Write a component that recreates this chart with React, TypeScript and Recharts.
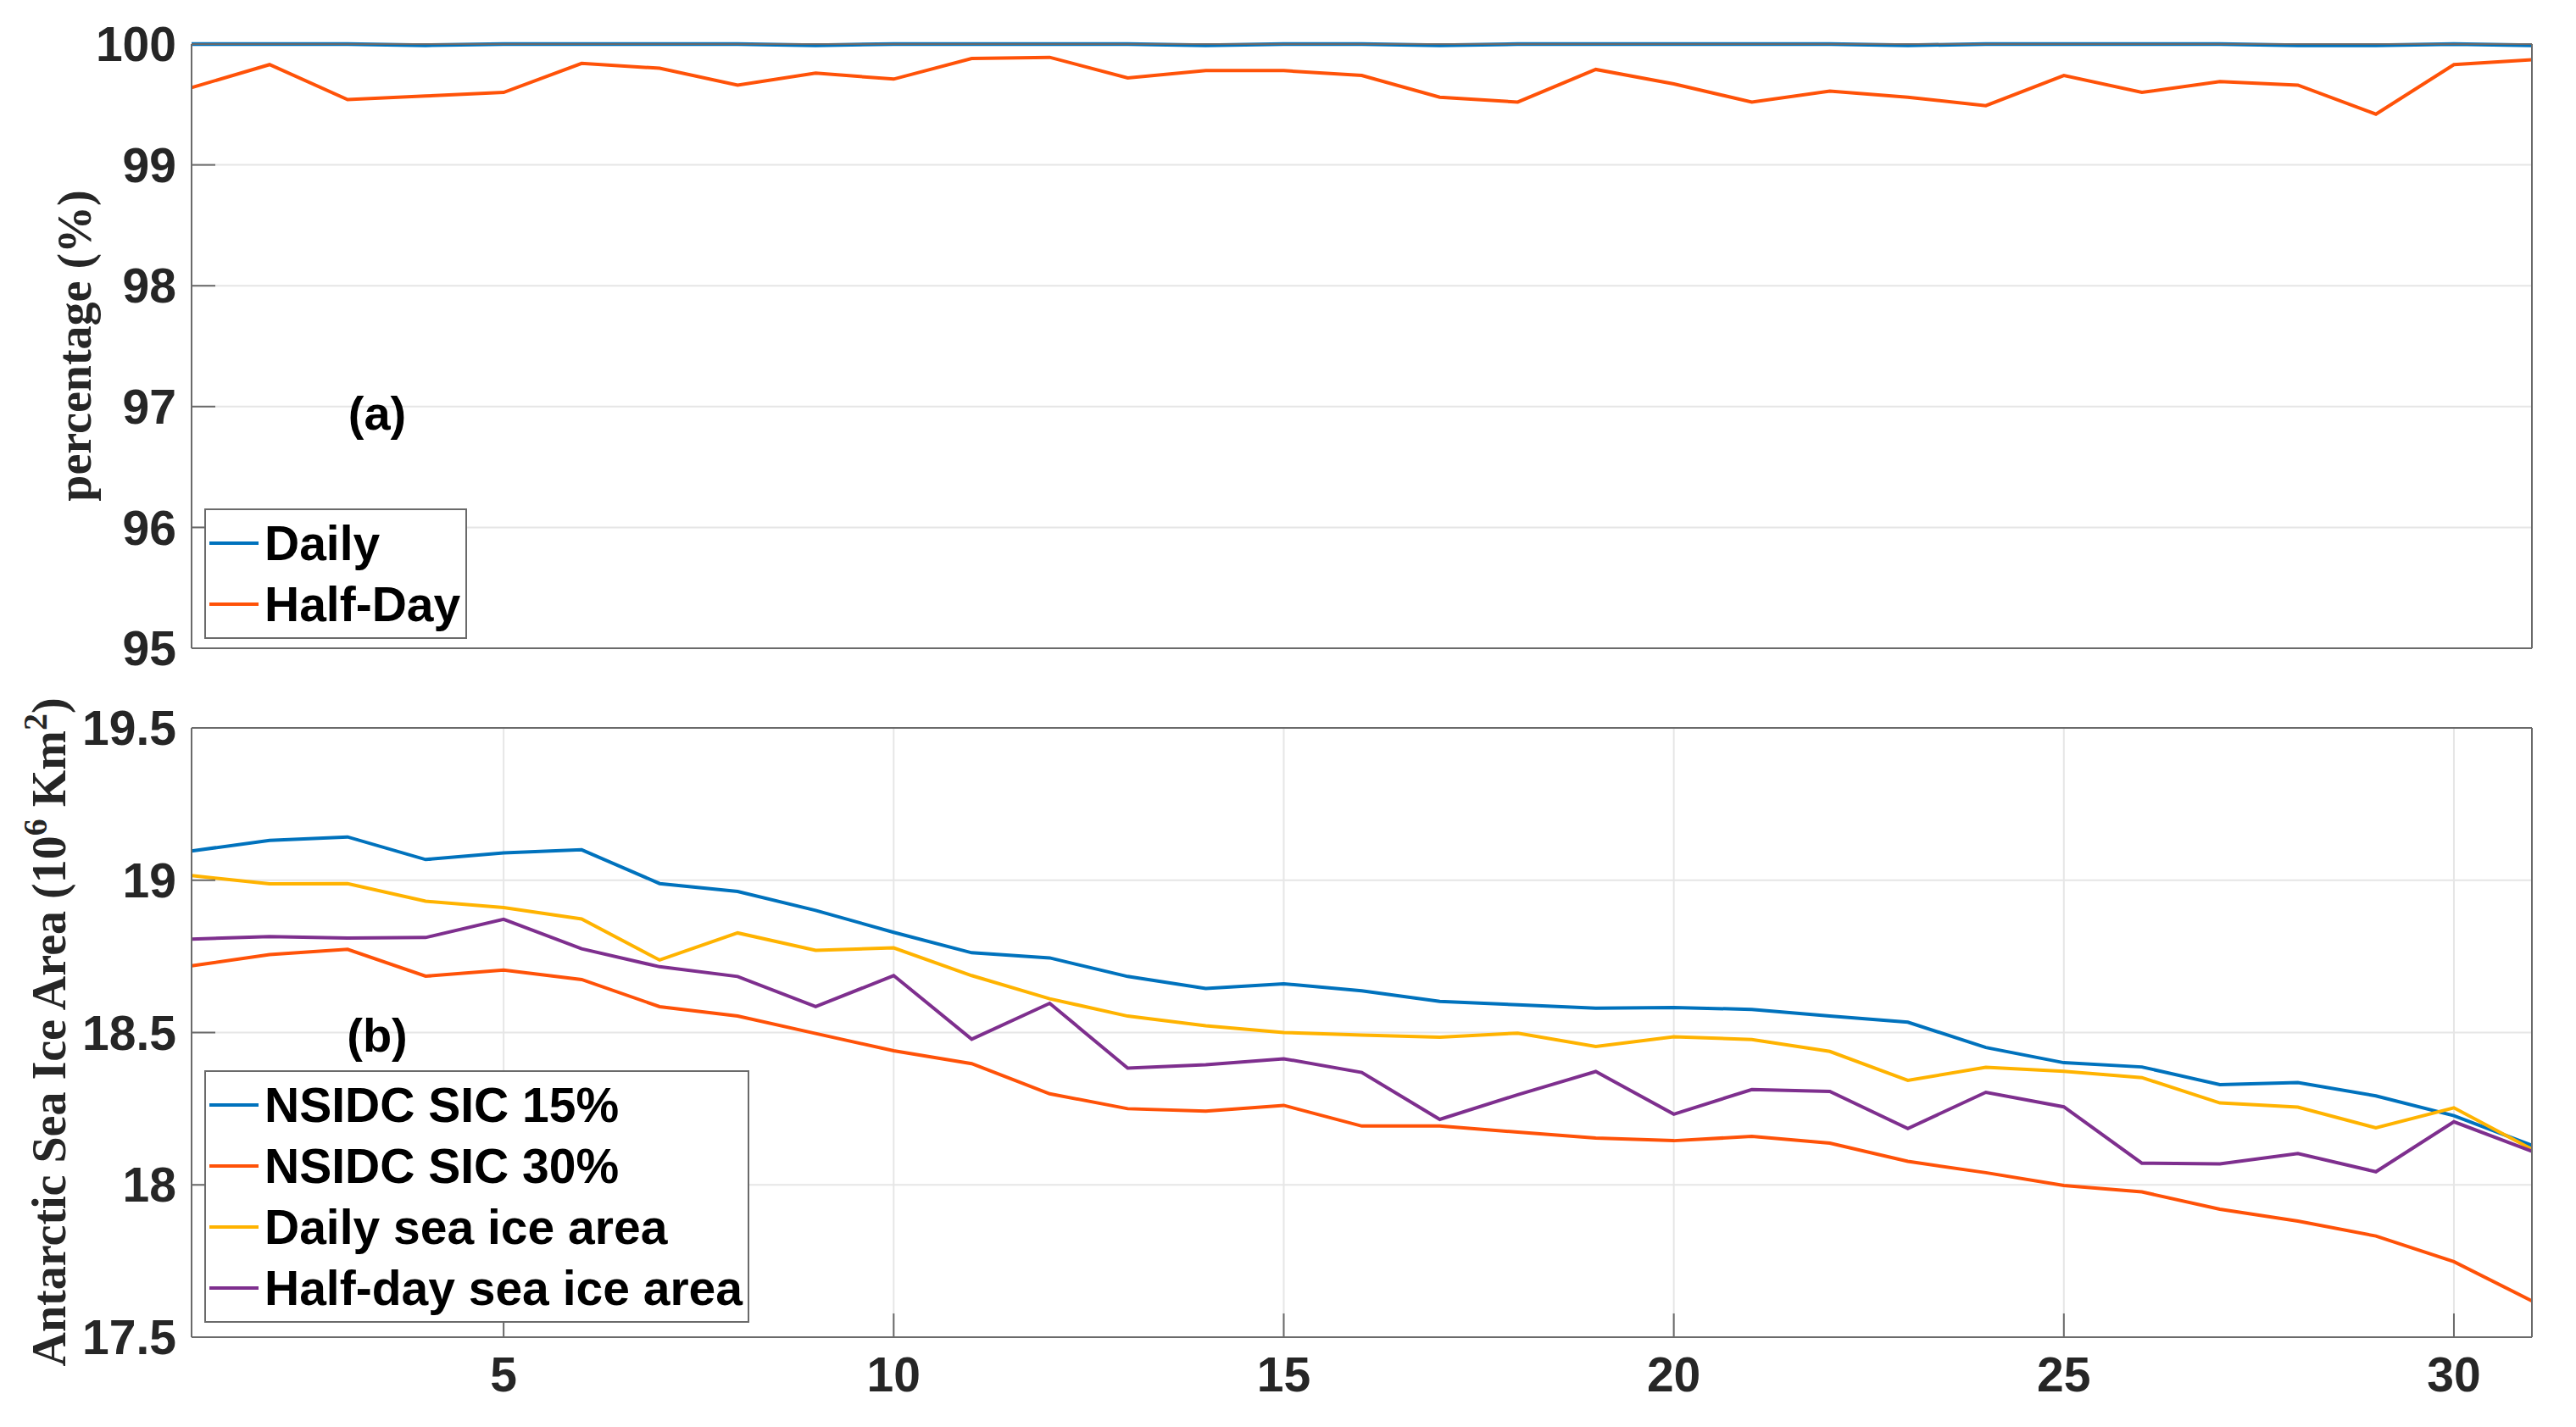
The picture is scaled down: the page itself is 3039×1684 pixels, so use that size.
import React from "react";
import { CartesianGrid, Legend, Line, LineChart, XAxis, YAxis } from "recharts";

const days = [1, 2, 3, 4, 5, 6, 7, 8, 9, 10, 11, 12, 13, 14, 15, 16, 17, 18, 19, 20, 21, 22, 23, 24, 25, 26, 27, 28, 29, 30, 31];

// panel (a): percentage
const dailyPct = [100, 100, 100, 99.99, 100, 100, 100, 100, 99.99, 100, 100, 100, 100, 99.99, 100, 100, 99.99, 100, 100, 100, 100, 100, 99.99, 100, 100, 100, 100, 99.99, 99.99, 100, 99.99];
const halfDayPct = [99.64, 99.83, 99.54, 99.57, 99.6, 99.84, 99.8, 99.66, 99.76, 99.71, 99.88, 99.89, 99.72, 99.78, 99.78, 99.74, 99.56, 99.52, 99.79, 99.67, 99.52, 99.61, 99.56, 99.49, 99.74, 99.6, 99.69, 99.66, 99.42, 99.83, 99.87];

// panel (b): sea ice area (10^6 km^2)
const sic15 = [19.096, 19.131, 19.142, 19.068, 19.09, 19.1, 18.989, 18.963, 18.901, 18.829, 18.762, 18.745, 18.684, 18.645, 18.66, 18.637, 18.602, 18.591, 18.58, 18.582, 18.576, 18.554, 18.534, 18.451, 18.401, 18.387, 18.329, 18.336, 18.292, 18.227, 18.13];
const sic30 = [18.719, 18.756, 18.773, 18.685, 18.705, 18.674, 18.585, 18.554, 18.497, 18.44, 18.398, 18.299, 18.25, 18.242, 18.261, 18.193, 18.193, 18.173, 18.154, 18.145, 18.159, 18.137, 18.077, 18.04, 17.998, 17.977, 17.92, 17.881, 17.832, 17.748, 17.619];
const dailyArea = [19.015, 18.988, 18.989, 18.931, 18.91, 18.873, 18.738, 18.827, 18.77, 18.778, 18.687, 18.611, 18.554, 18.522, 18.5, 18.492, 18.485, 18.498, 18.454, 18.486, 18.477, 18.438, 18.343, 18.386, 18.373, 18.352, 18.269, 18.255, 18.187, 18.253, 18.117];
const halfDayArea = [18.807, 18.815, 18.81, 18.812, 18.872, 18.775, 18.716, 18.684, 18.585, 18.687, 18.478, 18.596, 18.383, 18.394, 18.414, 18.369, 18.215, 18.296, 18.372, 18.232, 18.313, 18.307, 18.185, 18.304, 18.256, 18.071, 18.069, 18.103, 18.043, 18.207, 18.11];

const dayTicks = [5, 10, 15, 20, 25, 30];
const pctTicks = [95, 96, 97, 98, 99, 100];
const areaTicks = [17.5, 18, 18.5, 19, 19.5];

// legend order = drawing order
const seriesOrder = ["daily", "half", "s15", "s30", "da", "ha"];

const pctData = days.map((d, i) => ({ day: d, daily: dailyPct[i], half: halfDayPct[i] }));
const areaData = days.map((d, i) => ({ day: d, s15: sic15[i], s30: sic30[i], da: dailyArea[i], ha: halfDayArea[i] }));

const BLUE = "#0072BD";
const ORANGE = "#FF5208";
const YELLOW = "#FFB300";
const PURPLE = "#7E2F8E";
const FRAME = "#6a6a6a";
const SANS = "'Liberation Sans', Arial, Helvetica, sans-serif";
const SERIF = "'Liberation Serif', 'Times New Roman', serif";

const tickStyle = { fill: "#262626", fontSize: 57, fontWeight: 700, fontFamily: SANS };
const lineStyle = { stroke: FRAME, strokeWidth: 2 };

const sortLegend = (item: any) => seriesOrder.indexOf(item.dataKey);

const renderLegend = (props: any) => {
  const { payload } = props;
  return (
    <div style={{ background: "#fff", border: `2px solid ${FRAME}`, padding: "3px 6px 3px 4px" }}>
      {payload.map((entry: any) => (
        <div key={entry.value} style={{ display: "flex", alignItems: "center", height: 72 }}>
          <span style={{ display: "inline-block", width: 58, height: 4, background: entry.color, marginRight: 7 }} />
          <span style={{ fontFamily: SANS, fontWeight: 700, fontSize: 57, color: "#000", lineHeight: "72px", whiteSpace: "nowrap" }}>
            {entry.value}
          </span>
        </div>
      ))}
    </div>
  );
};

export default function App() {
  return (
    <div style={{ position: "absolute", left: 0, top: 0, width: 3039, height: 1684, background: "#fff" }}>
      <div style={{ position: "absolute", left: 0, top: 0 }}>
        <LineChart width={3039} height={820} data={pctData} margin={{ top: 51, right: 51, bottom: 0, left: 0 }}>
          <CartesianGrid stroke="#e6e6e6" strokeWidth={2} />
          <XAxis dataKey="day" type="number" domain={[1, 31]} ticks={dayTicks} height={55} tick={false}
            tickSize={-28} stroke={FRAME} axisLine={lineStyle} tickLine={lineStyle} />
          <XAxis xAxisId="t" orientation="top" dataKey="day" type="number" domain={[1, 31]} ticks={dayTicks} height={1}
            tick={false} tickSize={-28} stroke={FRAME} axisLine={lineStyle} tickLine={lineStyle} />
          <YAxis type="number" domain={[95, 100]} ticks={pctTicks} width={226} tickSize={-28} tickMargin={46}
            tick={tickStyle} stroke={FRAME} axisLine={lineStyle} tickLine={lineStyle} />
          <YAxis yAxisId="r" orientation="right" type="number" domain={[95, 100]} ticks={pctTicks} width={1}
            tick={false} tickSize={-28} stroke={FRAME} axisLine={lineStyle} tickLine={lineStyle} />
          <Legend layout="vertical" align="center" verticalAlign="middle" content={renderLegend} itemSorter={sortLegend}
            wrapperStyle={{ left: 241, top: 600, width: "auto" }} />
          <Line type="linear" dataKey="daily" name="Daily" stroke={BLUE} strokeWidth={4.5} dot={false} isAnimationActive={false} />
          <Line type="linear" dataKey="half" name="Half-Day" stroke={ORANGE} strokeWidth={4} dot={false} isAnimationActive={false} />
        </LineChart>
      </div>
      <div style={{ position: "absolute", left: 0, top: 820 }}>
        <LineChart width={3039} height={864} data={areaData} margin={{ top: 38, right: 51, bottom: 0, left: 0 }}>
          <CartesianGrid stroke="#e6e6e6" strokeWidth={2} />
          <XAxis dataKey="day" type="number" domain={[1, 31]} ticks={dayTicks} height={106} tick={tickStyle}
            tickSize={-28} tickMargin={52} stroke={FRAME} axisLine={lineStyle} tickLine={lineStyle} />
          <XAxis xAxisId="t" orientation="top" dataKey="day" type="number" domain={[1, 31]} ticks={dayTicks} height={1}
            tick={false} tickSize={-28} stroke={FRAME} axisLine={lineStyle} tickLine={lineStyle} />
          <YAxis type="number" domain={[17.5, 19.5]} ticks={areaTicks} width={226} tickSize={-28} tickMargin={46}
            tick={tickStyle} stroke={FRAME} axisLine={lineStyle} tickLine={lineStyle} />
          <YAxis yAxisId="r" orientation="right" type="number" domain={[17.5, 19.5]} ticks={areaTicks} width={1}
            tick={false} tickSize={-28} stroke={FRAME} axisLine={lineStyle} tickLine={lineStyle} />
          <Legend layout="vertical" align="center" verticalAlign="middle" content={renderLegend} itemSorter={sortLegend}
            wrapperStyle={{ left: 241, top: 443, width: "auto" }} />
          <Line type="linear" dataKey="s15" name="NSIDC SIC 15%" stroke={BLUE} strokeWidth={4} dot={false} isAnimationActive={false} />
          <Line type="linear" dataKey="s30" name="NSIDC SIC 30%" stroke={ORANGE} strokeWidth={4} dot={false} isAnimationActive={false} />
          <Line type="linear" dataKey="da" name="Daily sea ice area" stroke={YELLOW} strokeWidth={4} dot={false} isAnimationActive={false} />
          <Line type="linear" dataKey="ha" name="Half-day sea ice area" stroke={PURPLE} strokeWidth={4} dot={false} isAnimationActive={false} />
        </LineChart>
      </div>

      <div style={{ position: "absolute", left: 445, top: 487, transform: "translate(-50%, -50%)", fontFamily: SANS, fontWeight: 700, fontSize: 56, color: "#000", whiteSpace: "nowrap" }}>
        (a)
      </div>
      <div style={{ position: "absolute", left: 445, top: 1221, transform: "translate(-50%, -50%)", fontFamily: SANS, fontWeight: 700, fontSize: 56, color: "#000", whiteSpace: "nowrap" }}>
        (b)
      </div>

      <div style={{ position: "absolute", left: 88, top: 408, transform: "translate(-50%, -50%) rotate(-90deg)", fontFamily: SERIF, fontWeight: 700, fontSize: 56, color: "#262626", whiteSpace: "nowrap", lineHeight: 1 }}>
        percentage (%)
      </div>
      <div style={{ position: "absolute", left: 58, top: 1218, transform: "translate(-50%, -50%) rotate(-90deg)", fontFamily: SERIF, fontWeight: 700, fontSize: 56, color: "#262626", whiteSpace: "nowrap", lineHeight: 1 }}>
        Antarctic Sea Ice Area (10<sup style={{ fontSize: 40, verticalAlign: "0.55em", lineHeight: 0 }}>6</sup> Km<sup style={{ fontSize: 40, verticalAlign: "0.55em", lineHeight: 0 }}>2</sup>)
      </div>
    </div>
  );
}
